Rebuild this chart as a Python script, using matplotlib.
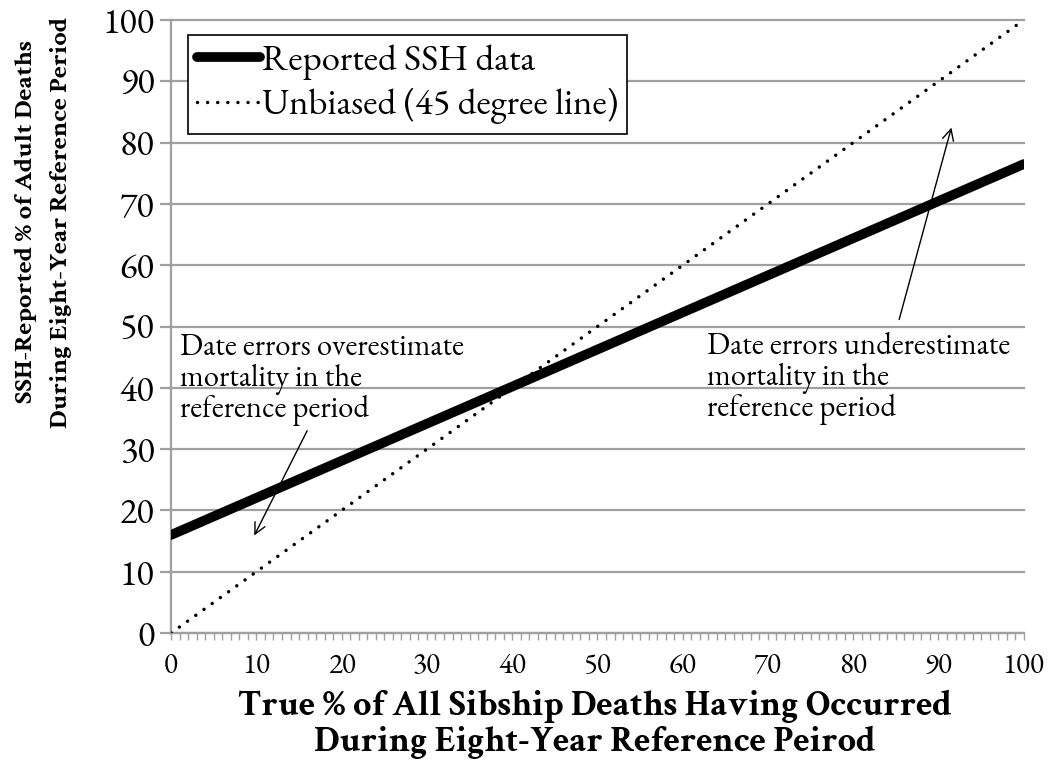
import matplotlib.pyplot as plt
from matplotlib.ticker import MultipleLocator
import logging

logging.getLogger('matplotlib.font_manager').setLevel(logging.ERROR)

# data
true_pct = [0, 100]
reported_pct = [16, 76.5]
unbiased_pct = [0, 100]

x_ticks = [0, 10, 20, 30, 40, 50, 60, 70, 80, 90, 100]
y_ticks = [0, 10, 20, 30, 40, 50, 60, 70, 80, 90, 100]

# annotations: (text, text position, arrow tail, arrow head)
left_note = "Date errors overestimate\nmortality in the\nreference period"
left_text_xy = (1.0, 49.0)
left_tail = (16.1, 33.4)
left_head = (9.6, 15.5)

right_note = "Date errors underestimate\nmortality in the\nreference period"
right_text_xy = (62.8, 49.2)
right_tail = (85.3, 50.7)
right_head = (91.6, 82.9)

plt.rcParams['font.family'] = ['EB Garamond', 'Liberation Serif', 'DejaVu Serif']
bold_family = ['Crimson Text', 'Crimson Pro', 'Liberation Serif', 'DejaVu Serif']

fig = plt.figure(figsize=(10.5, 7.71), dpi=100)
ax = fig.add_axes([0.163, 0.179, 0.812, 0.795])

gray = '#a0a0a0'
for y in y_ticks:
    ax.axhline(y, color=gray, lw=1.6, zorder=1, clip_on=False)

ax.plot(true_pct, reported_pct, color='black', lw=7, solid_capstyle='round',
        label='Reported SSH data', zorder=3)
ax.plot(true_pct, unbiased_pct, color='black', lw=2.5, dashes=(0.01, 2.9),
        dash_capstyle='round', label='Unbiased (45 degree line)', zorder=3)

ax.set_xlim(0, 100)
ax.set_ylim(0, 100)
ax.set_xticks(x_ticks)
ax.set_yticks(y_ticks)
ax.xaxis.set_minor_locator(MultipleLocator(1))
ax.tick_params(axis='x', which='both', direction='out', length=5, width=1,
               color=gray, labelsize=21, pad=9)
ax.tick_params(axis='y', which='major', direction='out', length=8, width=1.6,
               color=gray, labelsize=26, pad=4)

for side in ['top', 'right']:
    ax.spines[side].set_visible(False)
for side in ['left', 'bottom']:
    ax.spines[side].set_color(gray)
    ax.spines[side].set_linewidth(1.6)

ax.set_xlabel("True % of All Sibship Deaths Having Occurred\nDuring Eight-Year Reference Peirod",
              fontsize=26, fontweight='bold', family=bold_family,
              linespacing=1.12)
ax.xaxis.set_label_coords(0.4965, -0.093, transform=ax.transAxes)
ax.xaxis.label.set_verticalalignment('top')
fig.text(43 / 1050, 1 - 222 / 771,
         "SSH-Reported % of Adult Deaths\nDuring Eight-Year Reference Period",
         rotation=90, fontsize=19, fontweight='bold', family=bold_family,
         linespacing=1.75, ha='center', va='center', multialignment='center')

ax.annotate('', xy=left_head, xytext=left_tail,
            arrowprops=dict(arrowstyle='->', color='black', lw=1.0,
                            mutation_scale=20), zorder=4)
ax.annotate('', xy=right_head, xytext=right_tail,
            arrowprops=dict(arrowstyle='->', color='black', lw=1.0,
                            mutation_scale=20), zorder=4)
ax.text(*left_text_xy, left_note, fontsize=22, va='top', ha='left',
        linespacing=1.0, zorder=5)
ax.text(*right_text_xy, right_note, fontsize=22, va='top', ha='left',
        linespacing=1.0, zorder=5)

leg = ax.legend(loc='upper left', bbox_to_anchor=(0.02, 0.975), fontsize=26.5,
                frameon=True, fancybox=False, edgecolor='black',
                handlelength=1.7, handletextpad=0.05, borderpad=0.25,
                labelspacing=0.22, borderaxespad=0)
leg.get_frame().set_linewidth(1.2)
leg.get_frame().set_alpha(1)

fig.savefig('out.png', dpi=100)
